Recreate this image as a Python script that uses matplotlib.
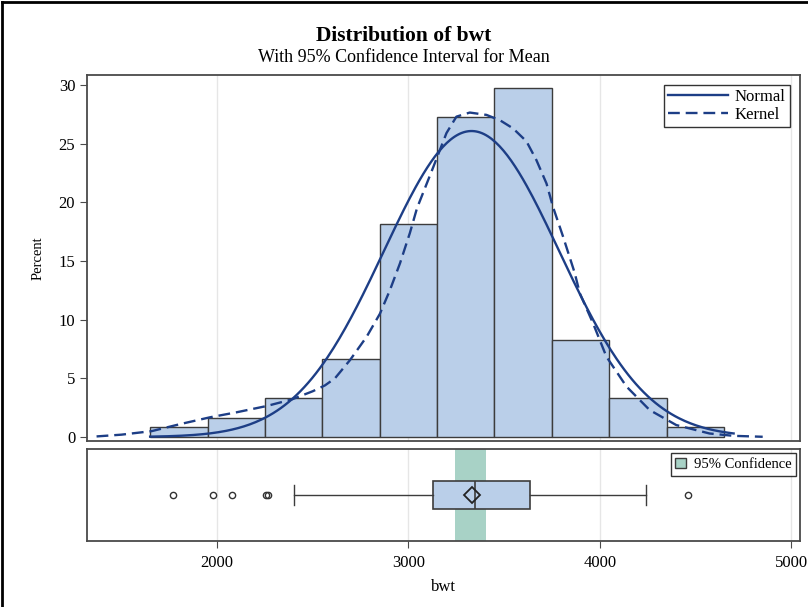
"""
Distribution of bwt - histogram with normal/kernel fits and box plot
"""

import matplotlib
matplotlib.use("Agg")
import matplotlib.pyplot as plt
import numpy as np
from matplotlib.lines import Line2D
from matplotlib.patches import Patch

plt.rcParams["font.family"] = ["Liberation Serif", "DejaVu Serif"]

# histogram: bin midpoints and percent of observations
bin_mids = [1800, 2100, 2400, 2700, 3000, 3300, 3600, 3900, 4200, 4500]
bin_pct = [0.83, 1.65, 3.31, 6.61, 18.18, 27.27, 29.75, 8.26, 3.31, 0.83]
bin_width = 300

# fitted normal
mean_bwt = 3330
sd_bwt = 459
normal_range = (1650, 4700)

# kernel density curve (bwt, percent)
kernel_x = [1370, 1500, 1658, 1807, 1963, 2100, 2259, 2390, 2500, 2564, 2616,
            2695, 2782, 2851, 2903, 2956, 3008, 3045, 3130, 3199, 3251, 3321,
            3408, 3478, 3547, 3617, 3669, 3722, 3756, 3808, 3869, 3896, 3965,
            4035, 4140, 4261, 4400, 4574, 4700, 4852]
kernel_y = [0.05, 0.2, 0.5, 1.1, 1.68, 2.1, 2.64, 3.2, 3.9, 4.4, 5.0,
            6.56, 8.55, 10.5, 12.5, 14.8, 17.4, 19.5, 23.0, 25.9, 27.3, 27.65,
            27.45, 27.0, 26.3, 25.2, 23.6, 21.6, 19.6, 17.1, 14.0, 12.25, 9.7,
            6.85, 4.3, 2.3, 1.02, 0.3, 0.1, 0.02]

# box plot statistics
box_q1, box_med, box_q3 = 3127, 3349, 3634
whisk_lo, whisk_hi = 2402, 4244
outliers = [1768, 1978, 2076, 2254, 2268, 4463]
ci_lo, ci_hi = 3244, 3407

BAR = "#bacfe9"
EDGE = "#3c3c3c"
LINE = "#1d3e86"
CI = "#a8d2c6"
GRID = "#e6e6e6"
FRAME = "#4a4a4a"

W, H = 808, 607
fig = plt.figure(figsize=(W / 100, H / 100), dpi=100)
ax = fig.add_axes([87 / W, 1 - 441 / H, 713 / W, 366 / H])
axb = fig.add_axes([87 / W, 1 - 541 / H, 713 / W, 92 / H], sharex=ax)

xlim = (1320, 5047)

# main panel
ax.bar(bin_mids, bin_pct, width=bin_width, color=BAR, edgecolor=EDGE,
       linewidth=1.0, zorder=2)
xn = np.linspace(normal_range[0], normal_range[1], 300)
yn = 100 * bin_width * np.exp(-0.5 * ((xn - mean_bwt) / sd_bwt) ** 2) / (sd_bwt * np.sqrt(2 * np.pi))
ax.plot(xn, yn, color=LINE, lw=1.7, zorder=3, label="Normal")
ax.plot(kernel_x, kernel_y, color=LINE, lw=1.7, ls=(0, (5, 2.5)), zorder=3,
        label="Kernel")
ax.set_xlim(*xlim)
ax.set_ylim(-0.34, 30.85)
ax.set_yticks([0, 5, 10, 15, 20, 25, 30])
ax.set_ylabel("Percent", fontsize=10.5, labelpad=10)
ax.tick_params(axis="y", labelsize=12, length=5, color=FRAME)
ax.tick_params(axis="x", bottom=False, labelbottom=False)
ax.set_xticks([2000, 3000, 4000, 5000])
ax.grid(True, axis="x", color=GRID, lw=1.0, zorder=0)
for s in ax.spines.values():
    s.set_color(FRAME)
    s.set_linewidth(1.3)
leg = ax.legend(loc="upper right", fontsize=12, handlelength=3.6,
                frameon=True, fancybox=False, edgecolor="black",
                borderaxespad=0.6, labelspacing=0.1, borderpad=0.25,
                handletextpad=0.4)
leg.get_frame().set_linewidth(1.0)

# box panel
axb.axvspan(ci_lo, ci_hi, color=CI, zorder=1, lw=0)
stats = [dict(med=box_med, q1=box_q1, q3=box_q3, whislo=whisk_lo,
              whishi=whisk_hi, fliers=outliers, mean=mean_bwt)]
axb.bxp(stats, positions=[0.5], widths=0.3, vert=False, patch_artist=True,
        showmeans=True, capwidths=0.22,
        boxprops=dict(facecolor=BAR, edgecolor=EDGE, lw=1.2),
        medianprops=dict(color=EDGE, lw=1.2),
        whiskerprops=dict(color=EDGE, lw=1.0),
        capprops=dict(color=EDGE, lw=1.0),
        meanprops=dict(marker="D", markerfacecolor="none",
                       markeredgecolor="#222222", markersize=8, mew=1.3),
        flierprops=dict(marker="o", markerfacecolor="none",
                        markeredgecolor="#333333", markersize=4.5, mew=1.0),
        zorder=3)
axb.set_ylim(0, 1)
axb.set_yticks([])
axb.set_xlim(*xlim)
axb.set_xticks([2000, 3000, 4000, 5000])
axb.set_xticklabels(["2000", "3000", "4000", "5000"])
axb.tick_params(axis="x", labelsize=12, length=5, color=FRAME, pad=5)
axb.set_xlabel("bwt", fontsize=12, labelpad=6)
axb.grid(True, axis="x", color=GRID, lw=1.0, zorder=0)
axb.set_axisbelow(True)
for s in axb.spines.values():
    s.set_color(FRAME)
    s.set_linewidth(1.3)
legb = axb.legend(handles=[Patch(facecolor=CI, edgecolor=EDGE, label="95% Confidence")],
                  loc="upper right", fontsize=10.5, frameon=True, fancybox=False,
                  edgecolor="black", borderaxespad=0.3, borderpad=0.3,
                  handlelength=0.75, handleheight=0.75, handletextpad=0.5)
legb.get_frame().set_linewidth(1.0)

# titles
fig.text(0.5, 1 - 36 / H, "Distribution of bwt", ha="center", va="center",
         fontsize=15.5, fontweight="bold")
fig.text(0.5, 1 - 58 / H, "With 95% Confidence Interval for Mean",
         ha="center", va="center", fontsize=13)

# outer frame edges (left and top)
fig.add_artist(Line2D([1.5 / W, 1.5 / W], [0, 1 - 1.5 / H], color="black", lw=2))
fig.add_artist(Line2D([1.5 / W, 1], [1 - 1.5 / H, 1 - 1.5 / H], color="black", lw=2))

fig.savefig("out.png", dpi=100)
